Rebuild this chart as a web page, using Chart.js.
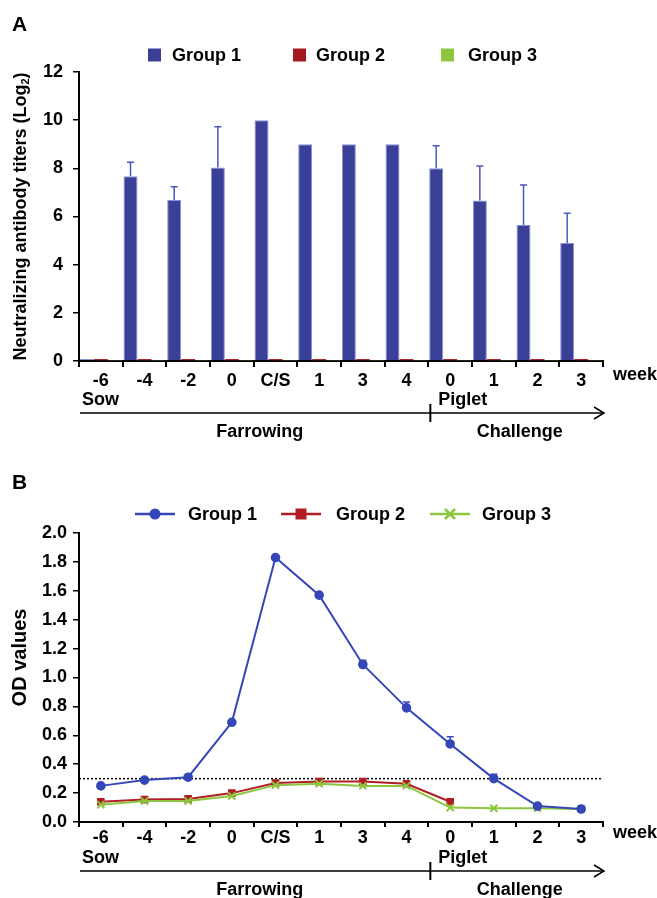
<!DOCTYPE html>
<html>
<head>
<meta charset="utf-8">
<script src="https://cdn.jsdelivr.net/npm/chart.js@4"></script>
<style>
  html, body { margin: 0; padding: 0; background: #fff; }
  canvas { display: block; }
</style>
</head>
<body>
<canvas id="chartA" width="657" height="449"></canvas>
<canvas id="chartB" width="657" height="449"></canvas>
<script>
// weeks (sow: -6 .. 4, piglet: 0 .. 3)
var weeks = ['-6', '-4', '-2', '0', 'C/S', '1', '3', '4', '0', '1', '2', '3'];

// A: neutralizing antibody titers (log2)
var titerG1 = [0.08, 7.67, 6.68, 8.03, 10.0, 9.0, 9.0, 9.0, 8.0, 6.66, 5.65, 4.9];
var titerG1Err = [0, 0.58, 0.56, 1.7, 0, 0, 0, 0, 0.94, 1.44, 1.66, 1.23];
var titerG2 = [0.08, 0.08, 0.08, 0.08, 0.08, 0.08, 0.08, 0.08, 0.08, 0.08, 0.08, 0.08];
var titerG3 = [0.04, 0.04, 0.04, 0.04, 0.04, 0.04, 0.04, 0.04, 0.04, 0.04, 0.04, 0.04];

// B: OD values
var odG1 = [0.25, 0.29, 0.31, 0.69, 1.83, 1.57, 1.09, 0.79, 0.54, 0.30, 0.11, 0.09];
var odG1Err = [0.01, 0.01, 0.01, 0.01, 0.01, 0.01, 0.03, 0.04, 0.05, 0.03, 0.01, 0.01];
var odG2 = [0.14, 0.155, 0.16, 0.20, 0.27, 0.28, 0.28, 0.265, 0.14, null, null, null];
var odG3 = [0.12, 0.145, 0.145, 0.18, 0.255, 0.265, 0.25, 0.25, 0.10, 0.095, 0.095, 0.09];
var cutoff = 0.3;

var FONT = '"Liberation Sans", Arial, sans-serif';
Chart.defaults.font.family = FONT;
Chart.defaults.font.size = 18;
Chart.defaults.font.weight = 'bold';
Chart.defaults.color = '#000';

function drawMarker(ctx, style, cx, cy, color) {
  ctx.fillStyle = color; ctx.strokeStyle = color;
  if (style === 'circle') {
    ctx.beginPath(); ctx.arc(cx, cy, 5.5, 0, Math.PI * 2); ctx.fill();
  } else if (style === 'rect') {
    ctx.fillRect(cx - 5.5, cy - 5.5, 11, 11);
  } else if (style === 'cross') {
    ctx.lineWidth = 2.5;
    ctx.beginPath();
    ctx.moveTo(cx - 5, cy - 5); ctx.lineTo(cx + 5, cy + 5);
    ctx.moveTo(cx + 5, cy - 5); ctx.lineTo(cx - 5, cy + 5);
    ctx.stroke();
  }
}

// letters, legends, y titles, sow/piglet timeline, error bars, cut-off line
var extras = {
  id: 'extras',
  beforeDatasetsDraw: function (chart, args, o) {
    if (o.cutoff == null) return;
    var ctx = chart.ctx, a = chart.chartArea;
    var yy = chart.scales.y.getPixelForValue(o.cutoff);
    ctx.save();
    ctx.strokeStyle = '#000'; ctx.lineWidth = 1.5; ctx.setLineDash([2, 2]);
    ctx.beginPath(); ctx.moveTo(a.left, yy); ctx.lineTo(a.right, yy); ctx.stroke();
    ctx.restore();
  },
  afterDatasetsDraw: function (chart, args, o) {
    var ctx = chart.ctx, y = chart.scales.y;
    (o.errors || []).forEach(function (errs, di) {
      if (!errs) return;
      var meta = chart.getDatasetMeta(di);
      var vals = chart.data.datasets[di].data;
      ctx.save();
      ctx.strokeStyle = o.errColor; ctx.lineWidth = 1.5;
      meta.data.forEach(function (el, i) {
        if (!errs[i] || vals[i] == null) return;
        var top = y.getPixelForValue(vals[i] + errs[i]);
        var bot = y.getPixelForValue(vals[i]);
        ctx.beginPath();
        ctx.moveTo(el.x, bot); ctx.lineTo(el.x, top);
        ctx.moveTo(el.x - o.cap, top); ctx.lineTo(el.x + o.cap, top);
        ctx.stroke();
      });
      ctx.restore();
    });
  },
  afterDraw: function (chart, args, o) {
    var ctx = chart.ctx, a = chart.chartArea, x = chart.scales.x;
    ctx.save();
    ctx.fillStyle = '#000'; ctx.strokeStyle = '#000';
    // panel letter
    ctx.font = 'bold 21px ' + FONT;
    ctx.textBaseline = 'middle'; ctx.textAlign = 'left';
    ctx.fillText(o.letter, 12, o.letterY);

    // legend
    ctx.font = 'bold 18px ' + FONT;
    o.legend.items.forEach(function (it) {
      if (o.legend.type === 'box') {
        ctx.fillStyle = it.color;
        ctx.fillRect(it.x, o.legend.y - 6.5, 13, 13);
      } else {
        ctx.strokeStyle = it.color; ctx.lineWidth = 2.5;
        ctx.beginPath(); ctx.moveTo(it.x, o.legend.y); ctx.lineTo(it.x + 40, o.legend.y); ctx.stroke();
        drawMarker(ctx, it.marker, it.x + 20, o.legend.y, it.color);
      }
      ctx.fillStyle = '#000';
      ctx.fillText(it.label, it.textX, o.legend.y + 1);
    });

    // y title (rotated, with optional subscript)
    var t = o.yTitle;
    ctx.save();
    ctx.translate(t.x, (a.top + a.bottom) / 2 + t.dy);
    ctx.rotate(-Math.PI / 2);
    var total = 0;
    t.parts.forEach(function (p) {
      ctx.font = 'bold ' + (p.sub ? Math.round(t.size * 0.62) : t.size) + 'px ' + FONT;
      p.w = ctx.measureText(p.text).width; total += p.w;
    });
    var px = -total / 2;
    ctx.textAlign = 'left'; ctx.fillStyle = '#000';
    t.parts.forEach(function (p) {
      ctx.font = 'bold ' + (p.sub ? Math.round(t.size * 0.62) : t.size) + 'px ' + FONT;
      ctx.fillText(p.text, px, p.sub ? 5 : 0);
      px += p.w;
    });
    ctx.restore();

    // timeline under the x axis
    var base = a.bottom, tl = o.timeline;
    var split = (x.getPixelForValue(7) + x.getPixelForValue(8)) / 2;
    ctx.font = 'bold 18px ' + FONT;
    ctx.textAlign = 'left'; ctx.fillStyle = '#000'; ctx.strokeStyle = '#000';
    ctx.fillText('week', a.right + 10, base + tl.week);
    ctx.fillText('Sow', a.left + 3, base + tl.sow);
    ctx.fillText('Piglet', split + 10, base + tl.sow);
    var ay = base + tl.arrow;
    ctx.lineWidth = 1.5;
    ctx.beginPath(); ctx.moveTo(a.left + 1, ay); ctx.lineTo(a.right + 1, ay); ctx.stroke();
    ctx.beginPath();
    ctx.moveTo(a.right - 9, ay - 6); ctx.lineTo(a.right + 1, ay); ctx.lineTo(a.right - 9, ay + 6);
    ctx.stroke();
    ctx.lineWidth = 2;
    ctx.beginPath(); ctx.moveTo(split + 2, ay - 9); ctx.lineTo(split + 2, ay + 9); ctx.stroke();
    ctx.textAlign = 'center';
    ctx.fillText('Farrowing', (a.left + split) / 2 + 6, base + tl.phase);
    ctx.fillText('Challenge', (split + a.right) / 2 + 4, base + tl.phase);
    ctx.restore();
  }
};

function xAxis(height, tickLen, pad) {
  return {
    offset: true,
    grid: { offset: true, drawOnChartArea: false, tickLength: tickLen, color: '#000', lineWidth: 2 },
    border: { display: true, color: '#000', width: 2 },
    ticks: { padding: pad, maxRotation: 0, autoSkip: false },
    afterFit: function (s) { s.height = height; }
  };
}

new Chart(document.getElementById('chartA'), {
  type: 'bar',
  data: {
    labels: weeks,
    datasets: [
      { label: 'Group 1', data: titerG1, backgroundColor: '#3a3f98', borderColor: '#8a90d6', borderWidth: 1 },
      { label: 'Group 2', data: titerG2, backgroundColor: '#a3191e' },
      { label: 'Group 3', data: titerG3, backgroundColor: '#8dc63f' }
    ]
  },
  options: {
    responsive: false,
    animation: false,
    categoryPercentage: 0.96,
    barPercentage: 1.0,
    layout: { padding: { top: 72, right: 54, left: 0, bottom: 0 } },
    plugins: {
      legend: { display: false },
      tooltip: { enabled: false },
      extras: {
        letter: 'A', letterY: 25,
        legend: { type: 'box', y: 55, items: [
          { label: 'Group 1', color: '#3a3f98', x: 148, textX: 172 },
          { label: 'Group 2', color: '#a3191e', x: 293, textX: 316 },
          { label: 'Group 3', color: '#8dc63f', x: 441, textX: 468 }
        ] },
        yTitle: { x: 21, dy: 0, size: 18, parts: [
          { text: 'Neutralizing antibody titers (Log' }, { text: '2', sub: true }, { text: ')' }
        ] },
        timeline: { week: 14, sow: 39, arrow: 52, phase: 71 },
        errors: [titerG1Err], errColor: '#4a56c4', cap: 3.5
      }
    },
    scales: {
      x: xAxis(88, 6, 3),
      y: {
        min: 0, max: 12,
        ticks: { stepSize: 1, padding: 10, callback: function (v) { return v % 2 === 0 ? v : ''; } },
        grid: { drawOnChartArea: false, tickLength: 6, color: '#000', lineWidth: 1.5 },
        border: { color: '#000', width: 2 },
        afterFit: function (s) { s.width = 79; }
      }
    }
  },
  plugins: [extras]
});

new Chart(document.getElementById('chartB'), {
  type: 'line',
  data: {
    labels: weeks,
    datasets: [
      { label: 'Group 1', data: odG1, borderColor: '#3546b8', backgroundColor: '#3546b8', borderWidth: 2,
        pointStyle: 'circle', pointRadius: 3.8, order: 0 },
      { label: 'Group 2', data: odG2, borderColor: '#b01e24', backgroundColor: '#b01e24', borderWidth: 2,
        pointStyle: 'rect', pointRadius: 4, order: 2 },
      { label: 'Group 3', data: odG3, borderColor: '#8cc63f', backgroundColor: '#8cc63f', borderWidth: 2,
        pointStyle: 'crossRot', pointRadius: 5, pointBorderWidth: 2, order: 1 }
    ]
  },
  options: {
    responsive: false,
    animation: false,
    layout: { padding: { top: 84, right: 54, left: 0, bottom: 0 } },
    plugins: {
      legend: { display: false },
      tooltip: { enabled: false },
      extras: {
        letter: 'B', letterY: 34,
        legend: { type: 'line', y: 65, items: [
          { label: 'Group 1', color: '#3546b8', marker: 'circle', x: 135, textX: 188 },
          { label: 'Group 2', color: '#b01e24', marker: 'rect', x: 281, textX: 336 },
          { label: 'Group 3', color: '#8cc63f', marker: 'cross', x: 430, textX: 482 }
        ] },
        yTitle: { x: 20, dy: -20, size: 20, parts: [{ text: 'OD values' }] },
        timeline: { week: 11, sow: 36, arrow: 49, phase: 68 },
        errors: [odG1Err], errColor: '#3546b8', cap: 3.5,
        cutoff: cutoff
      }
    },
    scales: {
      x: xAxis(76, 5, 0),
      y: {
        min: 0, max: 2,
        ticks: { stepSize: 0.1, padding: 6, callback: function (v) {
          return Math.round(v * 10) % 2 === 0 ? v.toFixed(1) : '';
        } },
        grid: { drawOnChartArea: false, tickLength: 6, color: '#000', lineWidth: 1.5 },
        border: { color: '#000', width: 2 },
        afterFit: function (s) { s.width = 79; }
      }
    }
  },
  plugins: [extras]
});
</script>
</body>
</html>
